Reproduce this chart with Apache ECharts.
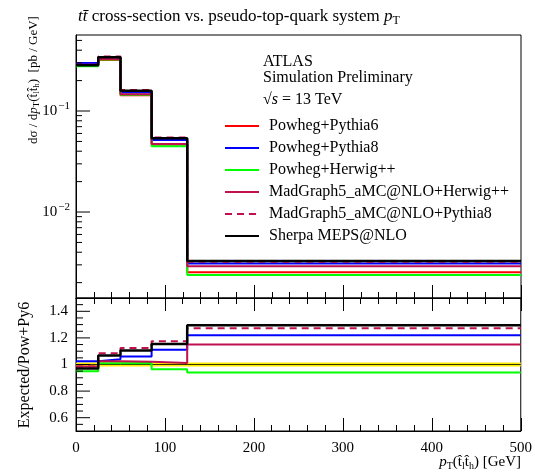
<!DOCTYPE html>
<html><head><meta charset="utf-8">
<script src="https://cdn.jsdelivr.net/npm/echarts@6/dist/echarts.min.js"></script>
<style>html,body{margin:0;padding:0;background:#fff}#c{width:535px;height:473px}</style>
</head><body><div id="c"></div>
<script>
// ---- data ----
const binEdges = [0, 25, 50, 85, 125, 500];
const seriesNames = ['Powheg+Pythia6', 'Powheg+Pythia8', 'Powheg+Herwig++',
  'MadGraph5_aMC@NLO+Herwig++', 'MadGraph5_aMC@NLO+Pythia8', 'Sherpa MEPS@NLO'];
const powhegPythia6 = [0.292, 0.320, 0.1435, 0.0465, 0.00253];
const powhegPythia8 = [0.2993, 0.3328, 0.1521, 0.05162, 0.003087];
const powhegHerwig  = [0.2774, 0.3232, 0.1452, 0.04487, 0.002378];
const mgHerwig      = [0.2876, 0.3280, 0.1464, 0.04706, 0.00291];
const mgPythia8     = [0.2876, 0.3472, 0.1613, 0.05459, 0.003221];
const sherpa        = [0.2832, 0.3414, 0.1586, 0.05366, 0.003279];
const logMajorTicks = [0.01, 0.1];
const logMinorTicks = [0.002, 0.003, 0.004, 0.005, 0.006, 0.007, 0.008, 0.009,
  0.02, 0.03, 0.04, 0.05, 0.06, 0.07, 0.08, 0.09, 0.2, 0.3, 0.4, 0.5];
const ratioMajorTicks = [0.6, 0.8, 1.0, 1.2, 1.4];
const ratioMinorTicks = [0.55, 0.65, 0.7, 0.75, 0.85, 0.9, 0.95, 1.05, 1.1, 1.15, 1.25, 1.3, 1.35, 1.45];

// ---- styles ----
const FONT = "'Liberation Serif', 'DejaVu Serif', serif";
const seriesStyles = [
  {color: '#ff0000', width: 2, type: 'solid'},
  {color: '#0000ff', width: 2, type: 'solid'},
  {color: '#00ff00', width: 2, type: 'solid'},
  {color: '#c0104f', width: 2, type: 'solid'},
  {color: '#c0104f', width: 2, type: [7, 5]},
  {color: '#000000', width: 2.5, type: 'solid'}
];
const allVals = [powhegPythia6, powhegPythia8, powhegHerwig, mgHerwig, mgPythia8, sherpa];

function stepData(vals) {
  return binEdges.map((e, i) => [e, vals[Math.min(i, vals.length - 1)]]);
}
function ratioVals(vals) { return vals.map((v, i) => v / powhegPythia6[i]); }

function tickSeries(xi, yi, values, len) {
  return {
    type: 'custom', xAxisIndex: xi, yAxisIndex: yi, silent: true, z: 20, clip: false,
    data: values.map(v => [0, v]),
    renderItem: (params, api) => {
      const p = api.coord([0, api.value(1)]);
      return {type: 'line', shape: {x1: p[0], y1: p[1], x2: p[0] + len, y2: p[1]},
        style: {stroke: '#000', lineWidth: 1}};
    }
  };
}

const series = [];
allVals.forEach((vals, k) => {
  const s = seriesStyles[k];
  series.push({
    name: seriesNames[k], type: 'line', step: 'end', xAxisIndex: 0, yAxisIndex: 0,
    data: stepData(vals), symbol: 'none', lineStyle: {color: s.color, width: s.width, type: s.type},
    itemStyle: {color: s.color}, z: 3 + k
  });
});
// reference band in ratio
series.push({type: 'line', step: 'end', xAxisIndex: 1, yAxisIndex: 1, data: stepData(ratioVals(powhegPythia6)),
  symbol: 'none', lineStyle: {color: '#ffee00', width: 4}, z: 2});
series.push({type: 'line', step: 'end', xAxisIndex: 1, yAxisIndex: 1, data: stepData(ratioVals(powhegPythia6)),
  symbol: 'none', lineStyle: {color: '#333300', width: 1}, z: 2});
allVals.forEach((vals, k) => {
  if (k === 0) return;
  const s = seriesStyles[k];
  series.push({
    name: seriesNames[k], type: 'line', step: 'end', xAxisIndex: 1, yAxisIndex: 1,
    data: stepData(ratioVals(vals)), symbol: 'none', lineStyle: {color: s.color, width: s.width, type: s.type},
    itemStyle: {color: s.color}, z: 3 + k
  });
});
series.push(tickSeries(0, 0, logMajorTicks, 14));
series.push(tickSeries(0, 0, logMinorTicks, 6));
series.push(tickSeries(1, 1, ratioMajorTicks, 14));
series.push(tickSeries(1, 1, ratioMinorTicks, 7));

const xAxisCommon = {
  type: 'value', min: 0, max: 500, interval: 100,
  axisLine: {show: true, lineStyle: {color: '#000', width: 1}},
  axisTick: {show: true, inside: true, length: 13, lineStyle: {color: '#000'}},
  minorTick: {show: true, splitNumber: 5, length: 6, lineStyle: {color: '#000'}},
  splitLine: {show: false}
};

const option = {
  animation: false,
  backgroundColor: '#fff',
  title: {
    left: 73, top: 2,
    text: '{i|t}{i|t\u0304} cross-section vs. pseudo-top-quark system {i|p}{sub|T}',
    textStyle: {fontFamily: FONT, fontSize: 17, fontWeight: 'normal', color: '#000',
      rich: {i: {fontFamily: FONT, fontSize: 17, fontStyle: 'italic'},
             sub: {fontFamily: FONT, fontSize: 12, padding: [8, 0, 0, 0]}}}
  },
  grid: [
    {left: 76, right: 14, top: 35, height: 263, show: true, borderColor: '#000', borderWidth: 1},
    {left: 76, right: 14, top: 298, height: 133, show: true, borderColor: '#000', borderWidth: 1}
  ],
  xAxis: [
    Object.assign({}, xAxisCommon, {gridIndex: 0, position: 'bottom', axisLabel: {show: false}}),
    Object.assign({}, xAxisCommon, {gridIndex: 1, position: 'bottom',
      axisLabel: {show: true, margin: 10, color: '#000', fontFamily: FONT, fontSize: 15}}),
    Object.assign({}, xAxisCommon, {gridIndex: 1, position: 'top', axisLabel: {show: false}})
  ],
  yAxis: [
    {type: 'log', gridIndex: 0, min: 0.001409, max: 0.5656, logBase: 10,
      axisLine: {show: true, lineStyle: {color: '#000'}}, axisTick: {show: false}, splitLine: {show: false},
      axisLabel: {show: true, showMinLabel: false, showMaxLabel: false, margin: 6, color: '#000',
        fontFamily: FONT, fontSize: 15,
        formatter: v => {
          const e = Math.round(Math.log10(v));
          if (Math.abs(Math.log10(v) - e) > 1e-6) return '';
          return '10{s|\u2212' + (-e) + '}';
        },
        rich: {s: {fontFamily: FONT, fontSize: 11, padding: [0, 0, 10, 1]}}}},
    {type: 'value', gridIndex: 1, min: 0.5, max: 1.5, interval: 0.1,
      axisLine: {show: true, lineStyle: {color: '#000'}}, axisTick: {show: false}, splitLine: {show: false},
      axisLabel: {show: true, margin: 8, color: '#000', fontFamily: FONT, fontSize: 15,
        formatter: v => {
          const t = Math.round(v * 10);
          if (Math.abs(v * 10 - t) > 1e-6 || t % 2 !== 0 || t < 6 || t > 14) return '';
          return String(t / 10);
        }}}
  ],
  legend: {
    orient: 'vertical', left: 219, top: 113, itemWidth: 34, itemHeight: 14, itemGap: 6,
    data: seriesNames, selectedMode: false,
    itemStyle: {color: 'rgba(0,0,0,0)', borderWidth: 0, opacity: 0},
    textStyle: {fontFamily: FONT, fontSize: 16, color: '#000', lineHeight: 14, padding: [0, 0, 0, 5]}
  },
  graphic: [
    {type: 'text', left: 263, top: 54, style: {text: 'ATLAS', font: '16px ' + FONT, fill: '#000'}},
    {type: 'text', left: 263, top: 70, style: {text: 'Simulation Preliminary', font: '16px ' + FONT, fill: '#000'}},
    {type: 'text', left: 263, top: 92, style: {text: '\u221A{i|s} = 13 TeV', font: '16px ' + FONT, fill: '#000',
      rich: {i: {fontStyle: 'italic', fontFamily: FONT, fontSize: 16}}}},
    {type: 'text', x: 34, y: 80, rotation: Math.PI / 2,
      style: {text: 'd\u03C3 / d{i|p}{sub|T}(t\u0302{sub|l}t\u0302{sub|h})  [pb / GeV]', font: '13px ' + FONT, fill: '#000',
        align: 'center', verticalAlign: 'middle',
        rich: {i: {fontStyle: 'italic', fontFamily: FONT, fontSize: 13}, sub: {fontFamily: FONT, fontSize: 9, padding: [5, 0, 0, 0]}}}},
    {type: 'text', x: 25, y: 365, rotation: Math.PI / 2,
      style: {text: 'Expected/Pow+Py6', font: '16px ' + FONT, fill: '#000', align: 'center', verticalAlign: 'middle'}},
    {type: 'text', right: 14, top: 455,
      style: {text: '{i|p}{sub|T}(t\u0302{sub|l}t\u0302{sub|h}) [GeV]', font: '15px ' + FONT, fill: '#000',
        rich: {i: {fontStyle: 'italic', fontFamily: FONT, fontSize: 15}, sub: {fontFamily: FONT, fontSize: 10, padding: [7, 0, 0, 0]}}}}
  ],
  series: series
};
const chart = echarts.init(document.getElementById('c'), null, {renderer: 'canvas'});
chart.setOption(option);
</script></body></html>
